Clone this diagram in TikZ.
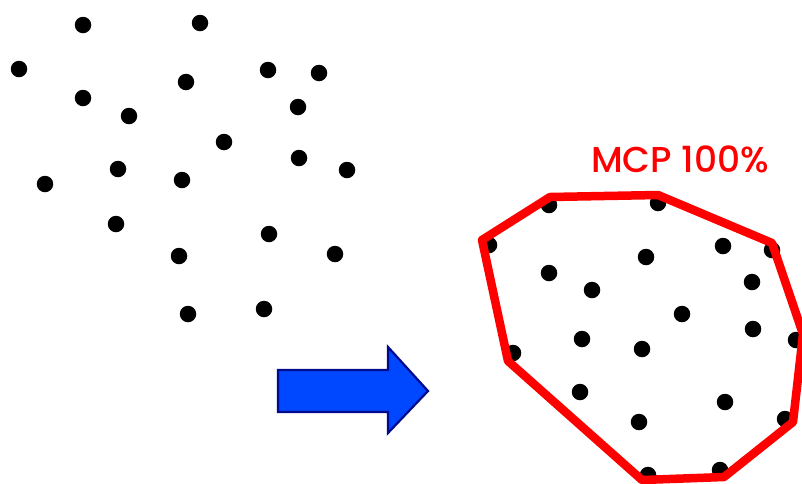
\documentclass[tikz,border=0pt]{standalone}
\usepackage{fontspec}
\setmainfont{Poppins}
\newfontfamily\labfont{Poppins Medium}
\begin{document}
\begin{tikzpicture}[x=1pt,y=-1pt,
  pt/.style={circle,fill=black,inner sep=0pt,minimum size=16.5pt},
  hull/.style={draw=red,line width=8.5pt,line join=round},
  bigarrow/.style={draw=arrowedge,fill=arrowfill,line width=2.2pt,line join=miter}]
\definecolor{arrowfill}{RGB}{0,72,255}
\definecolor{arrowedge}{RGB}{0,10,140}
\useasboundingbox (0,0) rectangle (802,483);
\clip (0,0) rectangle (802,483);
% left cloud
\foreach \x/\y [count=\i] in {83/25,200/23,19/69,268/70,319/73,186/82,83/98,129/116,298/107,224/142,118/169,299/158,347/170,45/184,182/180,116/224,269/234,179/256,335/254,188/314,264/309}
  \node[pt] (l\i) at (\x,\y) {};
% right cloud
\foreach \x/\y [count=\i] in {549/205,658/203,489/245,723/246,772/250,646/257,549/273,752/282,592/290,682/314,753/329,582/339,642/349,796/340,513/353,580/392,725/402,639/422,785/419,648/475,720/470}
  \node[pt] (r\i) at (\x,\y) {};
% hull vertices
\coordinate (h1) at (550,197);
\coordinate (h2) at (658,195);
\coordinate (h3) at (772,243);
\coordinate (h4) at (803,334);
\coordinate (h5) at (793,422);
\coordinate (h6) at (724,477);
\coordinate (h7) at (642,480);
\coordinate (h8) at (508,361);
\coordinate (h9) at (482,240);
\draw[hull] (h1) -- (h2) -- (h3) -- (h4) -- (h5) -- (h6) -- (h7) -- (h8) -- (h9) -- cycle;
% label
\node[text=red,font=\labfont\fontsize{36}{36}\selectfont,anchor=base west,inner sep=0pt] (lab) at (591,172) {MCP 100\%};
% arrow
\draw[bigarrow] (278,370) -- (388,370) -- (388,347) -- (428,391) -- (388,433) -- (388,412) -- (278,412) -- cycle;
\end{tikzpicture}
\end{document}
